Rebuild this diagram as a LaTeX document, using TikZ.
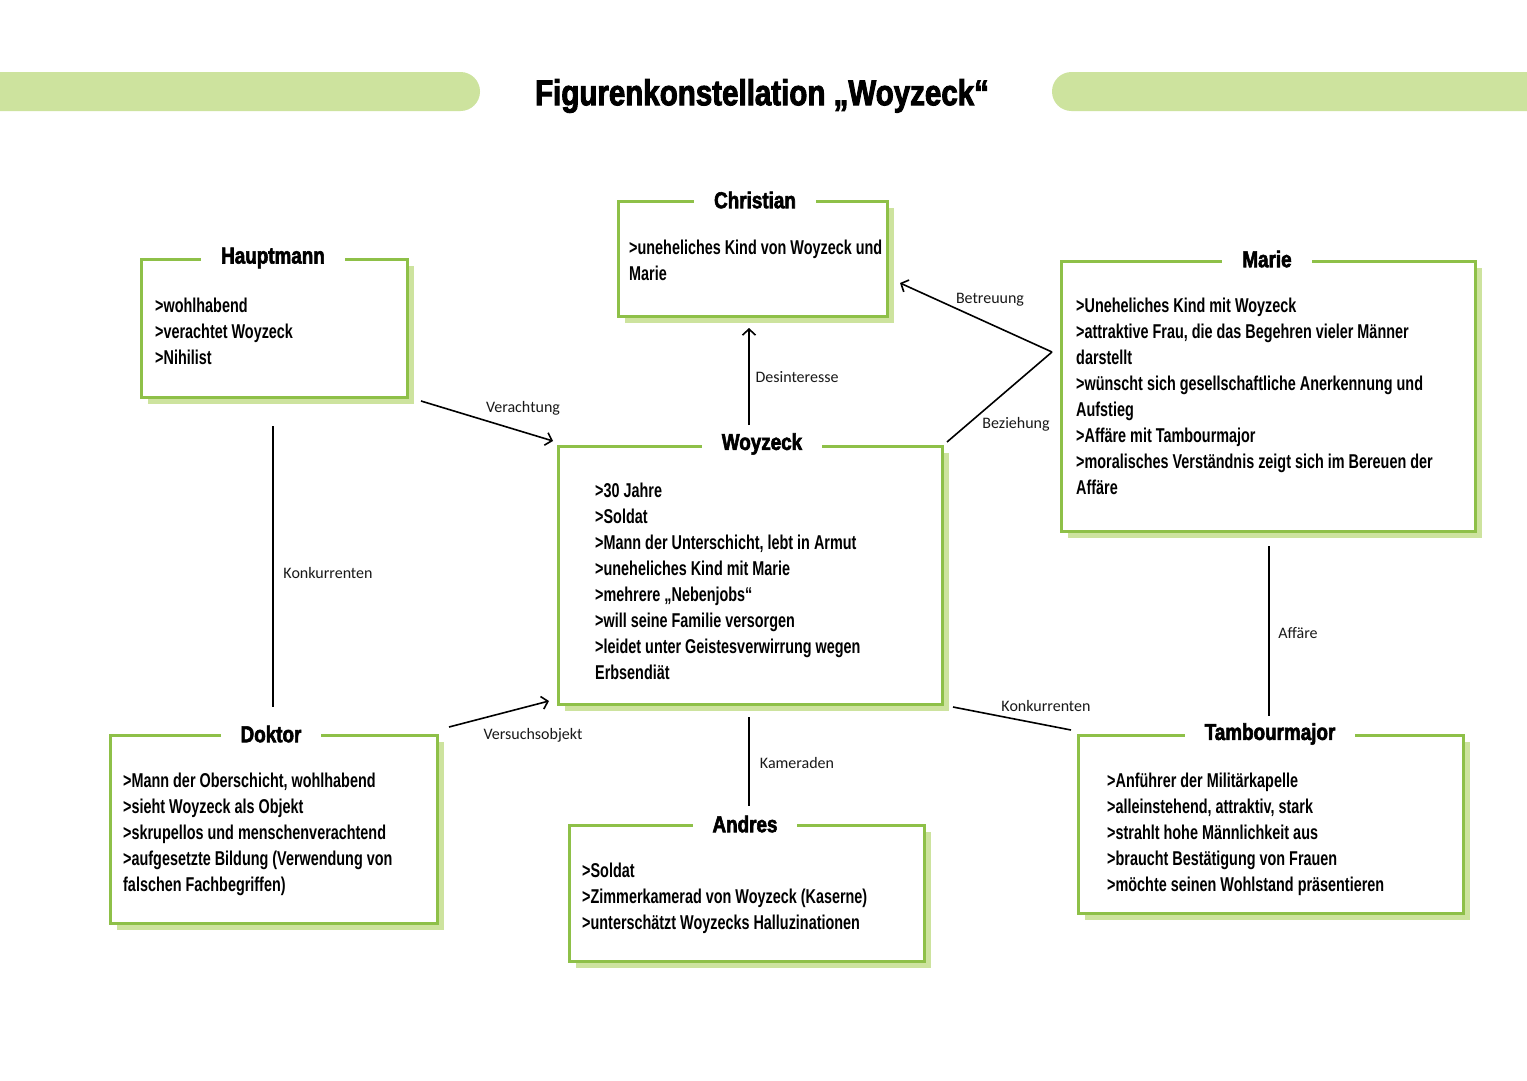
\documentclass[tikz,border=0pt]{standalone}
\usepackage{fontspec}
\usetikzlibrary{arrows.meta,shadows}
\newfontfamily\bodyfont{Liberation Sans}[FakeStretch=0.72]
\newfontfamily\headfont{Liberation Sans}[FakeStretch=0.82,FakeBold=2.5]
\newfontfamily\lblfont{Carlito}
\definecolor{boxgreen}{RGB}{142,192,72}
\definecolor{shadegreen}{RGB}{205,227,158}
\tikzset{
  charbox/.style={draw=boxgreen, line width=2.6pt, fill=white, anchor=north west, inner sep=0pt,
    drop shadow={shadow xshift=7pt, shadow yshift=-7pt, opacity=1, fill=shadegreen}},
  boxtitle/.style={fill=white, inner xsep=20pt, inner ysep=2pt, font=\headfont\bfseries\fontsize{23}{25}\selectfont},
  boxtext/.style={anchor=north west, inner sep=0pt, align=left, font=\bodyfont\bfseries\fontsize{20}{26}\selectfont},
  conn/.style={line width=1.6pt, black},
  arr/.style={conn, -{Straight Barb[length=6pt,width=13pt,line width=1.6pt]}},
  lbl/.style={font=\lblfont\fontsize{16}{18}\selectfont, text=black!90, inner sep=0pt}
}
\begin{document}
\begin{tikzpicture}[x=1pt,y=-1pt]
\useasboundingbox (0,0) rectangle (1527,1080);
\clip (0,0) rectangle (1527,1080);
\fill[white] (0,0) rectangle (1527,1080);
% header bars
\fill[shadegreen, rounded corners=19.5pt] (-30,72) rectangle (480,111);
\fill[shadegreen, rounded corners=19.5pt] (1052,72) rectangle (1560,111);
\node[font=\headfont\bfseries\fontsize{36}{40}\selectfont] (title) at (762,96) {Figurenkonstellation „Woyzeck“};

% boxes
\node[charbox, minimum width=269pt, minimum height=115pt] (christian) at (617,200) {};
\node[charbox, minimum width=266pt, minimum height=138pt] (hauptmann) at (140,258) {};
\node[charbox, minimum width=414pt, minimum height=270pt] (marie) at (1060,260) {};
\node[charbox, minimum width=384pt, minimum height=258pt] (woyzeck) at (557,445) {};
\node[charbox, minimum width=327pt, minimum height=188pt] (doktor) at (109,734) {};
\node[charbox, minimum width=355pt, minimum height=136pt] (andres) at (568,824) {};
\node[charbox, minimum width=385pt, minimum height=178pt] (tambour) at (1077,734) {};

% titles
\node[boxtitle] (christianT) at (755,200) {Christian};
\node[boxtitle] (hauptmannT) at (273,258) {Hauptmann};
\node[boxtitle] (marieT) at (1267,259) {Marie};
\node[boxtitle] (woyzeckT) at (762,444) {Woyzeck};
\node[boxtitle] (doktorT) at (271,734) {Doktor};
\node[boxtitle] (andresT) at (745,824) {Andres};
\node[boxtitle] (tambourT) at (1270,734) {Tambourmajor};

% texts
\node[boxtext] (christianX) at (629,240) {>uneheliches Kind von Woyzeck und\\Marie};
\node[boxtext] (hauptmannX) at (155,298) {>wohlhabend\\>verachtet Woyzeck\\>Nihilist};
\node[boxtext] (marieX) at (1076,298) {>Uneheliches Kind mit Woyzeck\\>attraktive Frau, die das Begehren vieler Männer\\darstellt\\>wünscht sich gesellschaftliche Anerkennung und\\Aufstieg\\>Affäre mit Tambourmajor\\>moralisches Verständnis zeigt sich im Bereuen der\\Affäre};
\node[boxtext] (woyzeckX) at (595,483) {>30 Jahre\\>Soldat\\>Mann der Unterschicht, lebt in Armut\\>uneheliches Kind mit Marie\\>mehrere „Nebenjobs“\\>will seine Familie versorgen\\>leidet unter Geistesverwirrung wegen\\Erbsendiät};
\node[boxtext] (doktorX) at (123,773) {>Mann der Oberschicht, wohlhabend\\>sieht Woyzeck als Objekt\\>skrupellos und menschenverachtend\\>aufgesetzte Bildung (Verwendung von\\falschen Fachbegriffen)};
\node[boxtext] (andresX) at (582,863) {>Soldat\\>Zimmerkamerad von Woyzeck (Kaserne)\\>unterschätzt Woyzecks Halluzinationen};
\node[boxtext] (tambourX) at (1107,773) {>Anführer der Militärkapelle\\>alleinstehend, attraktiv, stark\\>strahlt hohe Männlichkeit aus\\>braucht Bestätigung von Frauen\\>möchte seinen Wohlstand präsentieren};

% connector end points
\coordinate (hw1) at (421,401); \coordinate (hw2) at (553,441);
\coordinate (wc1) at (749,425); \coordinate (wc2) at (749,328);
\coordinate (mv) at (1052,352); \coordinate (mc) at (900,283); \coordinate (mw) at (947,442);
\coordinate (hd1) at (273,426); \coordinate (hd2) at (273,707);
\coordinate (dw1) at (449,727); \coordinate (dw2) at (549,701);
\coordinate (wa1) at (749,717); \coordinate (wa2) at (749,806);
\coordinate (wt1) at (953,707); \coordinate (wt2) at (1071,730);
\coordinate (mt1) at (1269,546); \coordinate (mt2) at (1269,716);

\draw[arr] (hw1) -- (hw2);
\draw[arr] (wc1) -- (wc2);
\draw[arr] (mv) -- (mc);
\draw[conn] (mv) -- (mw);
\draw[conn] (hd1) -- (hd2);
\draw[arr] (dw1) -- (dw2);
\draw[conn] (wa1) -- (wa2);
\draw[conn] (wt1) -- (wt2);
\draw[conn] (mt1) -- (mt2);

% labels
\node[lbl] (l1) at (523,408) {Verachtung};
\node[lbl] (l2) at (797,377) {Desinteresse};
\node[lbl] (l3) at (990,300) {Betreuung};
\node[lbl] (l4) at (1016,424) {Beziehung};
\node[lbl] (l5) at (328,573) {Konkurrenten};
\node[lbl] (l6) at (533,735) {Versuchsobjekt};
\node[lbl] (l7) at (797,763) {Kameraden};
\node[lbl] (l8) at (1046,706) {Konkurrenten};
\node[lbl] (l9) at (1298,633) {Affäre};
\end{tikzpicture}
\end{document}
